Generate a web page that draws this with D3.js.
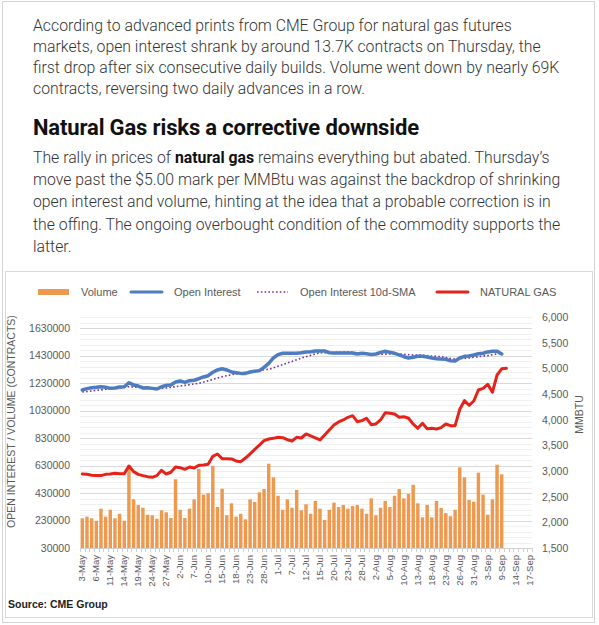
<!DOCTYPE html>
<html>
<head>
<meta charset="utf-8">
<script src="https://cdn.jsdelivr.net/npm/d3@7"></script>
<style>
  html, body { margin: 0; padding: 0; background: #fff; }
  svg { display: block; }
</style>
</head>
<body>
<div id="chart"></div>
<script>
// business days on the category axis (labels every 3rd)
const dates = [
  "3-May","4-May","5-May","6-May","7-May","10-May","11-May","12-May","13-May","14-May",
  "17-May","18-May","19-May","20-May","21-May","24-May","25-May","26-May","27-May","28-May",
  "1-Jun","2-Jun","3-Jun","4-Jun","7-Jun","8-Jun","9-Jun","10-Jun","11-Jun","14-Jun",
  "15-Jun","16-Jun","17-Jun","18-Jun","21-Jun","22-Jun","23-Jun","24-Jun","25-Jun","28-Jun",
  "29-Jun","30-Jun","1-Jul","2-Jul","6-Jul","7-Jul","8-Jul","9-Jul","12-Jul","13-Jul",
  "14-Jul","15-Jul","16-Jul","19-Jul","20-Jul","21-Jul","22-Jul","23-Jul","26-Jul","27-Jul",
  "28-Jul","29-Jul","30-Jul","2-Aug","3-Aug","4-Aug","5-Aug","6-Aug","9-Aug","10-Aug",
  "11-Aug","12-Aug","13-Aug","16-Aug","17-Aug","18-Aug","19-Aug","20-Aug","23-Aug","24-Aug",
  "25-Aug","26-Aug","27-Aug","30-Aug","31-Aug","1-Sep","2-Sep","3-Sep","7-Sep","8-Sep",
  "9-Sep","10-Sep","13-Sep","14-Sep","15-Sep","16-Sep","17-Sep"
];

// volume, thousands of contracts
const volumeK = [
  246,258,246,228,316,258,308,246,279,228,
  634,384,343,323,272,268,243,304,290,248,
  530,308,248,316,384,605,418,428,628,328,
  461,268,355,258,279,239,384,365,435,459,
  643,544,410,308,384,323,452,304,348,279,
  372,316,234,308,360,328,343,316,335,343,
  316,279,391,268,323,372,328,410,459,391,
  423,490,355,253,343,253,372,321,284,261,
  308,617,544,379,367,578,418,272,384,636,
  566
];

// open interest, thousands of contracts
const openInterestK = [
  1179,1189,1196,1199,1203,1199,1191,1194,1201,1203,
  1232,1216,1208,1194,1196,1191,1186,1203,1213,1216,
  1237,1245,1235,1247,1250,1261,1274,1283,1308,1325,
  1334,1325,1310,1305,1300,1300,1310,1315,1320,1344,
  1373,1412,1436,1446,1446,1446,1446,1450,1456,1458,
  1463,1463,1463,1450,1448,1448,1448,1448,1448,1441,
  1446,1443,1438,1441,1453,1461,1453,1446,1434,1421,
  1412,1417,1424,1424,1419,1412,1407,1404,1402,1392,
  1390,1412,1424,1426,1434,1443,1446,1456,1461,1461,
  1441
];

// open interest 10d-SMA, thousands
const oiSmaK = [
  1165,1168,1172,1176,1180,1184,1187,1190,1194,1198,
  1203,1201,1199,1196,1194,1193,1191,1191,1194,1198,
  1203,1208,1213,1218,1223,1228,1236,1246,1256,1266,
  1276,1283,1290,1296,1302,1308,1312,1317,1321,1326,
  1330,1340,1352,1363,1376,1386,1399,1411,1421,1431,
  1441,1450,1450,1450,1452,1453,1455,1456,1453,1450,
  1446,1443,1441,1439,1438,1440,1441,1443,1441,1438,
  1436,1434,1433,1431,1429,1426,1424,1421,1415,1409,
  1404,1407,1409,1412,1417,1421,1426,1429,1436,1442,
  1448
];

// natural gas price (right axis)
const natGas = [
  2942,2935,2916,2910,2910,2935,2942,2955,2948,2948,
  3097,2987,2935,2910,2890,2877,2910,3013,2942,2975,
  3078,3065,3033,3078,3058,3111,3117,3130,3286,3331,
  3240,3240,3234,3195,3182,3253,3331,3422,3506,3590,
  3623,3636,3656,3649,3610,3584,3656,3643,3721,3682,
  3643,3604,3701,3799,3896,3955,3994,4046,4078,3961,
  3981,4027,3903,3916,3994,4136,4123,4110,4046,4058,
  4027,3916,3832,3929,3825,3832,3818,3845,3916,3883,
  3883,4202,4370,4280,4364,4578,4610,4688,4533,4870,
  4990,5000
];

const leftTicks = [30000,230000,430000,630000,830000,1030000,1230000,1430000,1630000];
const rightTicks = [1500,2000,2500,3000,3500,4000,4500,5000,5500,6000];

const para1 = [
  "According to advanced prints from CME Group for natural gas futures",
  "markets, open interest shrank by around 13.7K contracts on Thursday, the",
  "first drop after six consecutive daily builds. Volume went down by nearly 69K",
  "contracts, reversing two daily advances in a row."
];
const heading = "Natural Gas risks a corrective downside";
// second paragraph, bold runs marked
const para2 = [
  [["The rally in prices of ", false], ["natural gas", true], [" remains everything but abated. Thursday\u2019s", false]],
  [["move past the $5.00 mark per MMBtu was against the backdrop of shrinking", false]],
  [["open interest and volume, hinting at the idea that a probable correction is in", false]],
  [["the offing. The ongoing overbought condition of the commodity supports the", false]],
  [["latter.", false]]
];

const W = 599, H = 625;
const svg = d3.select("#chart").append("svg").attr("width", W).attr("height", H);

// page frame
svg.append("rect").attr("x", 2.5).attr("y", 1.5).attr("width", 592).attr("height", 621)
  .attr("fill", "none").attr("stroke", "#d4d4d4");

// ---- article text
const bodyFont = "Roboto, 'Noto Sans', sans-serif";
svg.append("g").selectAll("text").data(para1).join("text")
  .attr("x", 33).attr("y", (d, i) => 31 + i * 21)
  .style("font-family", bodyFont).style("font-weight", 300).style("font-size", "15.8px")
  .attr("fill", "#333").text(d => d);

svg.append("text").attr("x", 33).attr("y", 135)
  .style("font-family", bodyFont).style("font-weight", 700).style("font-size", "22px")
  .style("letter-spacing", "-0.15px")
  .attr("fill", "#111").text(heading);

const p2 = svg.append("g").selectAll("text").data(para2).join("text")
  .attr("x", 33).attr("y", (d, i) => 163 + i * 22.2)
  .style("font-family", bodyFont).style("font-size", "15.8px").attr("fill", "#333");
p2.selectAll("tspan").data(d => d).join("tspan")
  .style("font-weight", d => d[1] ? 700 : 300)
  .attr("fill", d => d[1] ? "#111" : "#333")
  .text(d => d[0]);

// ---- chart box
const chartFont = "'Liberation Sans', Arial, sans-serif";
svg.append("rect").attr("x", 5.5).attr("y", 271.5).attr("width", 587).attr("height", 346)
  .attr("fill", "#fff").attr("stroke", "#d9d9d9");

const plot = { left: 80, right: 532, top: 317, bottom: 548 };

const x = d3.scaleBand().domain(dates).range([plot.left, plot.right]);
const yL = d3.scaleLinear().domain([30000, 1710000]).range([plot.bottom, plot.top]);
const yR = d3.scaleLinear().domain([1500, 6000]).range([plot.bottom, plot.top]);

// gridlines: minor every 40000, major every 200000
const minor = d3.range(30000, 1710001, 40000);
svg.append("g").selectAll("line").data(minor).join("line")
  .attr("x1", plot.left).attr("x2", plot.right)
  .attr("y1", d => Math.round(yL(d)) + 0.5).attr("y2", d => Math.round(yL(d)) + 0.5)
  .attr("stroke", d => leftTicks.includes(d) ? "#d9d9d9" : "#f0f0f0")
  .attr("stroke-width", 1);

// volume bars
const bw = x.bandwidth() * 0.74;
svg.append("g").selectAll("rect").data(volumeK).join("rect")
  .attr("x", (d, i) => x(dates[i]) + (x.bandwidth() - bw) / 2)
  .attr("width", bw)
  .attr("y", d => yL(d * 1000))
  .attr("height", d => yL(30000) - yL(d * 1000))
  .attr("fill", "#ed9a50");

// category axis
const xAxis = svg.append("g").attr("transform", `translate(0,${plot.bottom})`)
  .call(d3.axisBottom(x).tickValues(dates.filter((d, i) => i % 3 === 0)).tickSize(0).tickPadding(0));
xAxis.select(".domain").attr("stroke", "#d0d0d0");
xAxis.selectAll("text")
  .attr("transform", "rotate(-90)")
  .attr("x", -7).attr("y", 0).attr("dy", "0.33em")
  .style("text-anchor", "end")
  .style("font-family", chartFont).style("font-size", "9.5px").attr("fill", "#595959");
// small tick marks between categories
svg.append("g").selectAll("line").data(d3.range(dates.length + 1)).join("line")
  .attr("x1", i => Math.round(plot.left + i * x.step()) + 0.5)
  .attr("x2", i => Math.round(plot.left + i * x.step()) + 0.5)
  .attr("y1", plot.bottom).attr("y2", plot.bottom + 4)
  .attr("stroke", "#d0d0d0");

// lines
const lineOf = (scale, mult) => d3.line()
  .x((d, i) => x(dates[i]) + x.bandwidth() / 2)
  .y(d => scale(d * mult));

svg.append("path").datum(oiSmaK)
  .attr("d", lineOf(yL, 1000))
  .attr("fill", "none").attr("stroke", "#7030a0").attr("stroke-width", 1.6)
  .attr("stroke-dasharray", "1.6,2.2");

svg.append("path").datum(openInterestK)
  .attr("d", lineOf(yL, 1000))
  .attr("fill", "none").attr("stroke", "#4e7cc0").attr("stroke-width", 3.5)
  .attr("stroke-linejoin", "round").attr("stroke-linecap", "round");

svg.append("path").datum(natGas)
  .attr("d", lineOf(yR, 1))
  .attr("fill", "none").attr("stroke", "#e5231b").attr("stroke-width", 3)
  .attr("stroke-linejoin", "round").attr("stroke-linecap", "round");

// left axis
const aL = svg.append("g").attr("transform", `translate(${plot.left},0)`)
  .call(d3.axisLeft(yL).tickValues(leftTicks).tickFormat(d3.format("d")).tickSize(0).tickPadding(10));
aL.select(".domain").remove();
aL.selectAll("text").style("font-family", chartFont).style("font-size", "10.5px").attr("fill", "#595959");

// right axis
const aR = svg.append("g").attr("transform", `translate(${plot.right},0)`)
  .call(d3.axisRight(yR).tickValues(rightTicks).tickFormat(d3.format(",")).tickSize(0).tickPadding(10));
aR.select(".domain").remove();
aR.selectAll("text").style("font-family", chartFont).style("font-size", "10.5px").attr("fill", "#595959");

// axis titles
svg.append("text")
  .attr("transform", `translate(15,${(plot.top + plot.bottom) / 2 - 11}) rotate(-90)`)
  .style("text-anchor", "middle").style("font-family", chartFont).style("font-size", "10.5px")
  .attr("fill", "#595959").text("OPEN INTEREST / VOLUME (CONTRACTS)");
svg.append("text")
  .attr("transform", `translate(583,${(plot.top + plot.bottom) / 2 - 18}) rotate(-90)`)
  .style("text-anchor", "middle").style("font-family", chartFont).style("font-size", "10.5px")
  .attr("fill", "#595959").text("MMBTU");

// legend
const legendItems = [
  { name: "Volume", type: "bar", color: "#ed9a50", x: 38 },
  { name: "Open Interest", type: "line", color: "#4e7cc0", x: 131 },
  { name: "Open Interest 10d-SMA", type: "dot", color: "#7030a0", x: 257 },
  { name: "NATURAL GAS", type: "line", color: "#e5231b", x: 437 }
];
const lg = svg.append("g").selectAll("g").data(legendItems).join("g")
  .attr("transform", d => `translate(${d.x},292)`);
lg.filter(d => d.type === "bar").append("rect")
  .attr("x", 0).attr("y", -3).attr("width", 31).attr("height", 6).attr("fill", d => d.color);
lg.filter(d => d.type !== "bar").append("line")
  .attr("x1", 0).attr("x2", 31).attr("y1", 0).attr("y2", 0)
  .attr("stroke", d => d.color)
  .attr("stroke-width", d => d.type === "dot" ? 1.6 : 3)
  .attr("stroke-dasharray", d => d.type === "dot" ? "1.6,2.2" : null)
  .attr("stroke-linecap", d => d.type === "dot" ? "butt" : "round");
lg.append("text").attr("x", 43).attr("y", 0).attr("dy", "0.35em")
  .style("font-family", chartFont).style("font-size", "11px").attr("fill", "#595959")
  .text(d => d.name);

// source
svg.append("text").attr("x", 8).attr("y", 608)
  .style("font-family", chartFont).style("font-weight", 700).style("font-size", "10.5px")
  .attr("fill", "#222").text("Source: CME Group");
</script>
</body>
</html>
